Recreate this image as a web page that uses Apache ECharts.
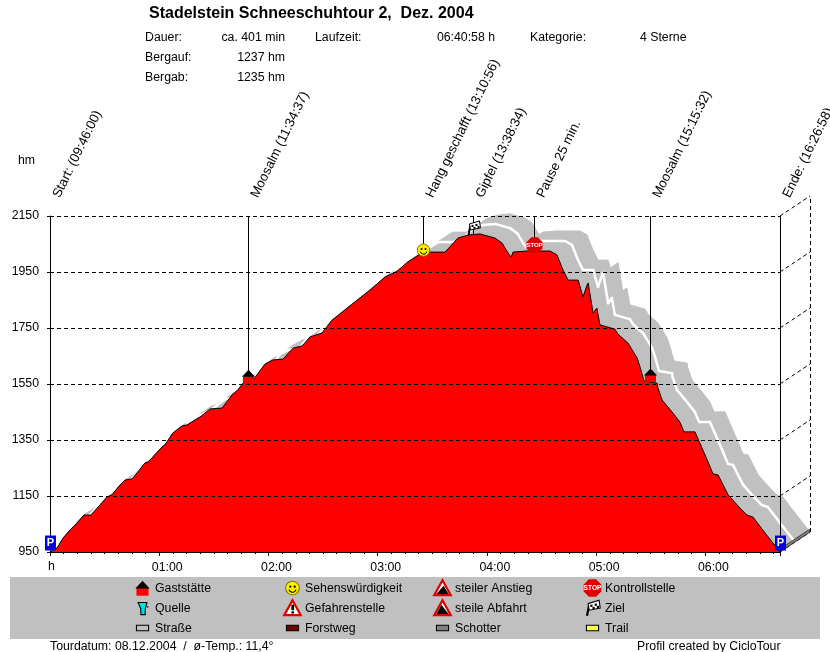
<!DOCTYPE html>
<html><head><meta charset="utf-8">
<style>html,body{margin:0;padding:0;background:#fff}#c{width:830px;height:652px}</style>
<script src="https://cdn.jsdelivr.net/npm/echarts@6/dist/echarts.min.js"></script>
</head><body><div id="c"></div>
<script>
const minutes = [0,3.9,7.2,11,13.8,18.6,22.5,31.3,34,38.4,41.2,45.1,52.2,53.9,61.5,63.1,67.5,72.5,75.2,82.4,87.9,94.5,100,103.2,106,108.4,112,118.1,122.5,128,133.5,138.5,142.8,149.4,154.9,163.2,175.8,184,190.6,196.6,201.6,204.9,217,224.1,229.6,236.2,244.5,248.4,251.6,253.3,254.4,262,274.7,278.5,281.8,284.6,290.1,292.8,295,295.6,297.8,298.3,300.4,302.1,310.3,312,317.5,322.5,324.1,326.3,329.6,333.5,333.8,336.2,342.2,346,348.3,354.3,361.5,364.2,367,372.5,379,382.8,386.1,392.8,401];
const elevation = [950,964,1000,1029,1046,1082,1082,1146,1154,1189,1207,1211,1268,1271,1325,1332,1375,1400,1404,1432,1461,1464,1511,1529,1553,1565,1568,1621,1636,1639,1678,1686,1718,1732,1778,1821,1886,1932,1953,1986,2007,2021,2021,2071,2082,2086,2071,2053,2018,2003,2021,2025,2025,2011,1957,1921,1921,1861,1903,1911,1825,1803,1821,1761,1746,1728,1696,1643,1611,1561,1557,1553,1539,1493,1446,1414,1379,1379,1271,1229,1225,1154,1107,1082,1075,1018,950];
const yTicks = [950,1150,1350,1550,1750,1950,2150];
const xMax = 401;
const markerNames = ['Start: (09:46:00)','Moosalm (11:34:37)','Hang geschafft (13:10:56)','Gipfel (13:38:34)','Pause 25 min.','Moosalm (15:15:32)','Ende: (16:26:58)'];
const markerMinutes = [0,108.6,204.9,232.6,265.6,329.5,401];
const markerElevation = [950,1553,2021,2086,2028,1557,950];
const markerIcons = ['p','house','smile','flag','stop','house','p'];
const legendNames = [['Gaststätte','Sehenswürdigkeit','steiler Anstieg','Kontrollstelle'],['Quelle','Gefahrenstelle','steile Abfahrt','Ziel'],['Straße','Forstweg','Schotter','Trail']];
const legendIcons = [['house','smile','up','stop'],['spring','danger','down','flag'],['road','forest','gravel','trail']];

const FONT = '"Liberation Sans", Arial, sans-serif';
const DEPTH_X = 30, DEPTH_Y = -20;
const RED = '#ff0000', GREY = '#c0c0c0';

function poly(points, fill, stroke, lw){return {type:'polygon',shape:{points},style:{fill,stroke:stroke||null,lineWidth:lw||0}};}
function rect(x,y,w,h,fill,stroke){return {type:'rect',shape:{x,y,width:w,height:h},style:{fill,stroke:stroke||null,lineWidth:stroke?1:0}};}
function line(a,b,c,d,stroke,lw){return {type:'line',shape:{x1:a,y1:b,x2:c,y2:d},style:{stroke,lineWidth:lw||1}};}
function circle(x,y,r,fill,stroke){return {type:'circle',shape:{cx:x,cy:y,r},style:{fill,stroke:stroke||null,lineWidth:stroke?1:0}};}
function iconText(t,x,y,size,fill){return {type:'text',x,y,style:{text:t,font:'bold '+size+'px '+FONT,fill,textAlign:'center',textVerticalAlign:'middle'}};}
function octagon(r){const a=r*0.41;return [[-a,-r],[a,-r],[r,-a],[r,a],[a,r],[-a,r],[-r,a],[-r,-a]];}
const icons = {
  house:()=>[rect(-5.5,0,11,7,RED),poly([[-6.5,0.5],[6.5,0.5],[0,-6.5]],'#000')],
  smile:()=>[circle(0,0,6.2,'#ffee00','#7a7a00'),circle(-2,-1.2,1,'#000'),circle(2,-1.2,1,'#000'),
    {type:'arc',shape:{cx:0,cy:0.5,r:3.4,startAngle:0.3,endAngle:Math.PI-0.3},style:{stroke:'#000',lineWidth:1,fill:null}}],
  stop:()=>[poly(octagon(8),'#e00000'),iconText('STOP',0,0,6,'#fff')],
  flag:()=>{const c=[line(-5,7,-3,-3,'#000',2),poly([[-4,-4],[6,-7],[7,0],[-3,2]],'#fff','#000',1)];
    [[-2,-3],[2,-4],[0,-1],[4,-2]].forEach(p=>c.push(rect(p[0],p[1],2,2,'#000')));return c;},
  p:()=>[rect(-5.5,-7.5,11,15,'#0000e0'),iconText('P',0,-0.5,11,'#fff')],
  spring:()=>[poly([[-4,-5],[4,-5],[2.5,1],[2.5,6],[-1.5,6],[-1.5,1]],'#00e0e0','#000',1),line(4,-1,5.5,-1,'#000',1)],
  danger:()=>[poly([[0,-7],[7.5,6.5],[-7.5,6.5]],'#fff','#e00000',2),rect(-1,-3,2.4,5,'#000'),rect(-1,3,2.4,2,'#000')],
  up:()=>[poly([[0,-7],[7.5,6.5],[-7.5,6.5]],'#fff','#e00000',2),poly([[-5.5,5.5],[5.5,5.5],[1,-2]],'#000')],
  down:()=>[poly([[0,-7],[7.5,6.5],[-7.5,6.5]],'#fff','#e00000',2),poly([[-5.5,5.5],[5.5,5.5],[-1,-3]],'#000')],
  road:()=>[rect(-5.5,-2.5,11,5,GREY,'#000')],
  forest:()=>[rect(-5.5,-2.5,11,5,'#700000','#000')],
  gravel:()=>[rect(-5.5,-2.5,11,5,'#808080','#000')],
  trail:()=>[rect(-5.5,-2.5,11,5,'#ffff40','#000')]
};
const iconLift = {p:-9,house:-7,smile:-2,flag:-6,stop:-5};

function txt(t,x,y,o){o=o||{};return {type:'text',x,y:y+1,z:30,style:{text:t,font:(o.bold?'bold ':'')+(o.size||12.3)+'px '+FONT,fill:'#000',textAlign:o.align||'left',textVerticalAlign:'middle'}};}

const graphics = [
  {type:'rect',z:1,shape:{x:10,y:577,width:810,height:62},style:{fill:GREY}},
  txt('Stadelstein Schneeschuhtour 2,  Dez. 2004',149,13,{bold:true,size:16}),
  txt('Dauer:',145,37),txt('ca. 401 min',285,37,{align:'right'}),txt('Laufzeit:',315,37),txt('06:40:58 h',495,37,{align:'right'}),txt('Kategorie:',530,37),txt('4 Sterne',640,37),
  txt('Bergauf:',145,57),txt('1237 hm',285,57,{align:'right'}),
  txt('Bergab:',145,77),txt('1235 hm',285,77,{align:'right'}),
  txt('hm',18,160),txt('h',48,566),
  txt('Tourdatum: 08.12.2004  /  ø-Temp.: 11,4°',50,646),
  txt('Profil created by CicloTour',637,646)
];
const legendIconX=[142.5,292.5,442.5,592.5], legendTextX=[155,305,455,605], legendY=[588,608,628];
legendNames.forEach((row,r)=>row.forEach((name,c)=>{
  graphics.push(txt(name,legendTextX[c],legendY[r]));
  const kids=icons[legendIcons[r][c]]();
  kids.forEach(k=>{k.z=30;});
  graphics.push({type:'group',x:legendIconX[c],y:legendY[r],scaleX:1.1,scaleY:1.1,children:kids});
}));

const profile = minutes.map((m,i)=>[m,elevation[i]]);
const chart = echarts.init(document.getElementById('c'),null,{renderer:'canvas'});
chart.setOption({
  animation:false,
  backgroundColor:'#fff',
  grid:{left:50,right:50,top:216,bottom:100},
  graphic:graphics,
  xAxis:{type:'value',min:0,max:xMax,interval:60,z:10,
    axisLine:{onZero:false,lineStyle:{color:'#000',width:1}},
    axisTick:{length:4,lineStyle:{color:'#000'}},
    minorTick:{show:true,splitNumber:8,length:2,lineStyle:{color:'#000'}},
    splitLine:{show:false},
    axisLabel:{margin:10,color:'#000',fontFamily:'Liberation Sans',fontSize:12.3,align:'center',padding:[0,0,0,16],
      showMinLabel:false,showMaxLabel:false,
      formatter:v=>(v>0&&v%60===0)?('0'+v/60+':00'):''}},
  yAxis:{type:'value',min:950,max:2150,z:10,
    axisLine:{show:true,onZero:false,lineStyle:{color:'#000',width:1}},
    axisTick:{show:true,length:3,customValues:yTicks,lineStyle:{color:'#000'}},
    splitLine:{show:true,lineStyle:{color:'#000',type:[4,3],width:1}},
    axisLabel:{margin:11,color:'#000',fontFamily:'Liberation Sans',fontSize:12.3,padding:[4,0,0,0],customValues:yTicks,formatter:v=>String(v)}},
  series:[
    {type:'custom',name:'ribbon',coordinateSystem:'cartesian2d',z:1,clip:false,silent:true,data:profile.slice(0,-1),
      encode:{x:0,y:1},
      renderItem:(p,api)=>{const i=p.dataIndex,a=api.coord(profile[i]),b=api.coord(profile[i+1]);
        return {type:'polygon',shape:{points:[a,b,[b[0]+DEPTH_X,b[1]+DEPTH_Y],[a[0]+DEPTH_X,a[1]+DEPTH_Y]]},style:{fill:GREY,stroke:GREY,lineWidth:1}};}},
    {type:'custom',name:'track',coordinateSystem:'cartesian2d',z:2,clip:false,silent:true,data:profile.slice(0,-1),
      encode:{x:0,y:1},
      renderItem:(p,api)=>{const i=p.dataIndex,a=api.coord(profile[i]),b=api.coord(profile[i+1]);
        return {type:'line',shape:{x1:a[0]+DEPTH_X/2,y1:a[1]+DEPTH_Y/2,x2:b[0]+DEPTH_X/2,y2:b[1]+DEPTH_Y/2},style:{stroke:'#fff',lineWidth:2.5,lineCap:'round'}};}},
    {type:'line',name:'Profil',data:profile,z:3,showSymbol:false,symbol:'none',smooth:false,silent:true,clip:false,
      lineStyle:{color:'#000',width:1},areaStyle:{color:RED,opacity:1}},
    {type:'custom',name:'box',coordinateSystem:'cartesian2d',z:12,clip:false,silent:true,data:yTicks.map(v=>[xMax,v]),
      encode:{x:0,y:1},
      renderItem:(p,api)=>{const a=api.coord([xMax,yTicks[p.dataIndex]]);const dash=[4,3];const kids=[
          {type:'line',shape:{x1:a[0],y1:a[1],x2:a[0]+DEPTH_X,y2:a[1]+DEPTH_Y},style:{stroke:'#000',lineWidth:1,lineDash:dash}}];
        if(p.dataIndex===0){const t=api.coord([xMax,2150]);
          kids.push({type:'line',shape:{x1:a[0]+DEPTH_X+0.5,y1:a[1]+DEPTH_Y,x2:t[0]+DEPTH_X+0.5,y2:t[1]+DEPTH_Y},style:{stroke:'#000',lineWidth:1,lineDash:dash}});
          kids.push({type:'polygon',shape:{points:[[a[0],a[1]],[a[0]+DEPTH_X,a[1]+DEPTH_Y],[a[0]+DEPTH_X,a[1]+DEPTH_Y-3],[a[0],a[1]-3]]},style:{fill:'#808080',stroke:'#000',lineWidth:0.6}});}
        return {type:'group',children:kids};}},
    {type:'custom',name:'marker',coordinateSystem:'cartesian2d',z:20,clip:false,silent:true,data:markerMinutes.map((m,i)=>[m,markerElevation[i]]),
      encode:{x:0,y:1},
      renderItem:(p,api)=>{const i=p.dataIndex,m=markerMinutes[i],g=api.coord([m,markerElevation[i]]),t=api.coord([m,2150]),k=markerIcons[i];
        const x=Math.round(g[0])+0.5;
        return {type:'group',children:[
          {type:'line',shape:{x1:x,y1:t[1],x2:x,y2:(k==='p')?api.coord([m,950])[1]:g[1]},style:{stroke:'#000',lineWidth:1}},
          {type:'group',x:x,y:g[1]+iconLift[k],children:icons[k]()},
          {type:'text',x:x+6,y:t[1]-19,rotation:64*Math.PI/180,style:{text:markerNames[i],font:'13.2px '+FONT,fill:'#000',textAlign:'left',textVerticalAlign:'middle'}}
        ]};}}
  ]
});
</script></body></html>
